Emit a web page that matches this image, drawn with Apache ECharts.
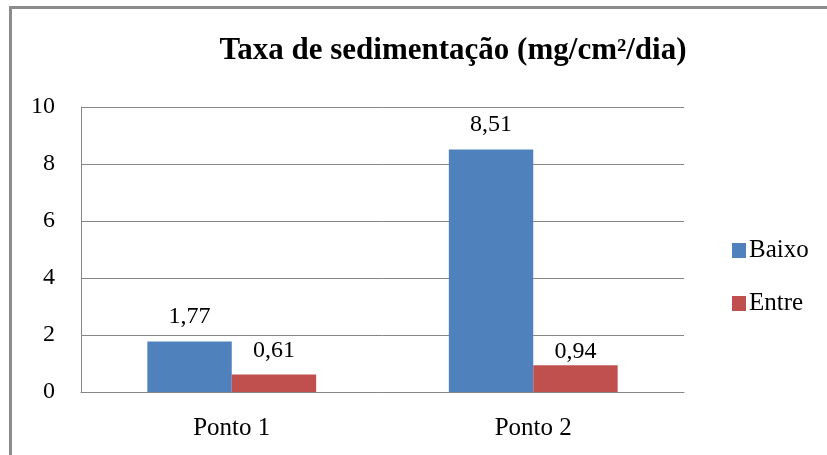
<!DOCTYPE html>
<html>
<head>
<meta charset="utf-8">
<script src="https://cdn.jsdelivr.net/npm/echarts@6/dist/echarts.min.js"></script>
<style>
  html, body { margin: 0; padding: 0; background: #fff; overflow: hidden; }
  #frame { position: absolute; left: 9px; top: 6px; width: 900px; height: 500px; border: 3px solid #8c8c8c; box-sizing: border-box; }
  #chart { position: absolute; left: 0; top: 0; width: 827px; height: 455px; }
</style>
</head>
<body>
<div id="frame"></div>
<div id="chart"></div>
<script>
'use strict';
// Taxa de sedimentação - barras agrupadas
const categories = ['Ponto 1', 'Ponto 2'];
const baixo = [1.77, 8.51];
const entre = [0.61, 0.94];
const yTicks = { min: 0, max: 10, interval: 2 };

const FONT = '"Liberation Serif", "DejaVu Serif", serif';
const $ = (id) => document.getElementById(id);
const fmt = (v) => String(v.toFixed(2)).replace('.', ',');

const chart = echarts.init($('chart'), null, { renderer: 'canvas' });
chart.setOption({
  backgroundColor: 'transparent',
  animation: false,
  title: {
    text: 'Taxa de sedimentação (mg/cm²/dia)',
    left: 448, top: 30, textAlign: 'center',
    textStyle: { fontFamily: FONT, fontSize: 31, fontWeight: 'bold', color: '#000' }
  },
  legend: {
    orient: 'vertical', left: 727, top: 233, itemGap: 28,
    itemWidth: 14, itemHeight: 15, icon: 'rect',
    textStyle: { fontFamily: FONT, fontSize: 25, color: '#000', padding: [0, 0, 0, -2] },
    data: ['Baixo', 'Entre']
  },
  grid: { left: 81, right: 143, top: 107, bottom: 63 },
  xAxis: {
    type: 'category', data: categories,
    axisLine: { lineStyle: { color: '#868686', width: 1 } },
    axisTick: { show: false },
    axisLabel: { fontFamily: FONT, fontSize: 25, color: '#000', margin: 24 }
  },
  yAxis: {
    type: 'value', min: yTicks.min, max: yTicks.max, interval: yTicks.interval,
    axisLine: { show: true, lineStyle: { color: '#868686', width: 1 } },
    axisTick: { show: false },
    axisLabel: { fontFamily: FONT, fontSize: 24, color: '#000', margin: 26 },
    splitLine: { lineStyle: { color: '#868686', width: 1 } }
  },
  series: [
    {
      name: 'Baixo', type: 'bar', data: baixo, barGap: '0%', barCategoryGap: '44%',
      itemStyle: { color: '#4f81bd' },
      label: { show: true, position: 'top', distance: 13, fontFamily: FONT, fontSize: 24, color: '#000', formatter: (p) => fmt(p.value) }
    },
    {
      name: 'Entre', type: 'bar', data: entre.map((v, i) => ({ value: v, label: i === 1 ? { offset: [0, 10] } : {} })),
      itemStyle: { color: '#c0504d' },
      label: { show: true, position: 'top', distance: 12, fontFamily: FONT, fontSize: 24, color: '#000', formatter: (p) => fmt(p.value) }
    }
  ]
});

window.addEventListener('resize', () => chart.resize());
</script>
</body>
</html>
